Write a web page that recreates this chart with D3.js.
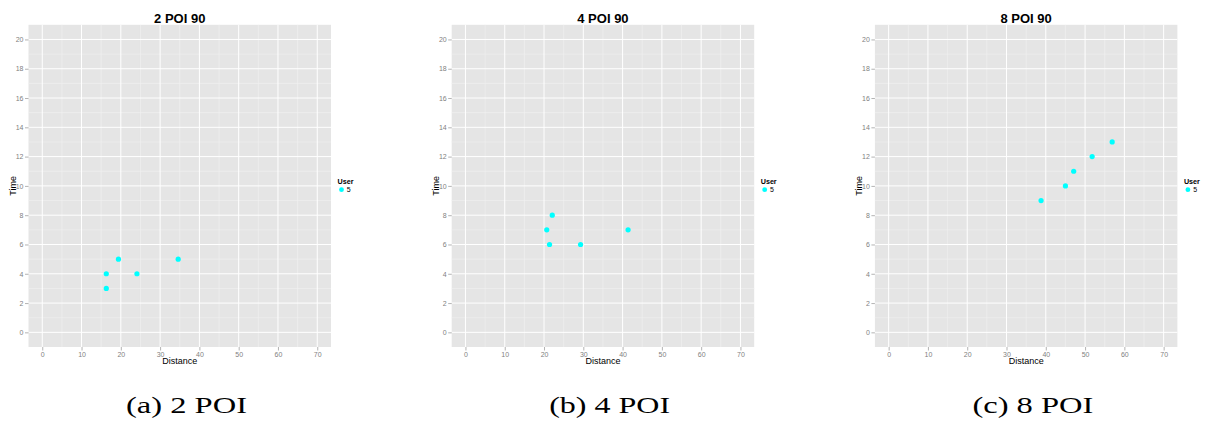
<!DOCTYPE html>
<html>
<head>
<meta charset="utf-8">
<script src="https://cdn.jsdelivr.net/npm/d3@7"></script>
<style>
body { margin: 0; background: #fff; }
svg { display: block; }
</style>
</head>
<body>
<div id="chart"></div>
<script>
var titles = ["2 POI 90", "4 POI 90", "8 POI 90"]
var captions = ["(a) 2 POI", "(b) 4 POI", "(c) 8 POI"]

// Distance / Time per panel
var dist2 = [16.3, 16.3, 19.4, 24.1, 34.6]
var time2 = [4, 3, 5, 4, 5]
var dist4 = [22.1, 20.7, 21.4, 29.3, 41.4]
var time4 = [8, 7, 6, 6, 7]
var dist8 = [38.8, 45.0, 47.1, 51.8, 56.9]
var time8 = [9, 10, 11, 12, 13]

var xTicks = [0, 10, 20, 30, 40, 50, 60, 70]
var yTicks = [0, 2, 4, 6, 8, 10, 12, 14, 16, 18, 20]
var xMinor = [5, 15, 25, 35, 45, 55, 65]
var yMinor = [1, 3, 5, 7, 9, 11, 13, 15, 17, 19]
var legendTitle = "User"
var legendLabel = "5"

var panels = [
    {title: titles[0], caption: captions[0], x: dist2, y: time2},
    {title: titles[1], caption: captions[1], x: dist4, y: time4},
    {title: titles[2], caption: captions[2], x: dist8, y: time8}
]

var width = 1205
var height = 423
var svg = d3.select("#chart").append("svg").attr("width", width).attr("height", height)

var step = 423.2
var plotW = 302.5
var plotTop = 24.8
var plotBottom = 347
var font = "'Liberation Sans', Arial, Helvetica, sans-serif"

panels.forEach(function(p, i) {
    var left = 28.5 + step * i
    var x = d3.scaleLinear().domain([-3.5, 73.5]).range([left, left + plotW])
    var y = d3.scaleLinear().domain([-1, 21]).range([plotBottom, plotTop])
    var g = svg.append("g")

    g.append("rect").attr("x", left).attr("y", plotTop)
        .attr("width", plotW).attr("height", plotBottom - plotTop).attr("fill", "#e5e5e5")

    // minor grid
    g.selectAll(".xminor").data(xMinor).enter().append("line")
        .attr("x1", function(d) { return x(d) }).attr("x2", function(d) { return x(d) })
        .attr("y1", plotTop).attr("y2", plotBottom).attr("stroke", "#f2f2f2").attr("stroke-width", 0.6)
    g.selectAll(".yminor").data(yMinor).enter().append("line")
        .attr("y1", function(d) { return y(d) }).attr("y2", function(d) { return y(d) })
        .attr("x1", left).attr("x2", left + plotW).attr("stroke", "#f2f2f2").attr("stroke-width", 0.6)
    // major grid
    g.selectAll(".xmajor").data(xTicks).enter().append("line")
        .attr("x1", function(d) { return x(d) }).attr("x2", function(d) { return x(d) })
        .attr("y1", plotTop).attr("y2", plotBottom).attr("stroke", "#fff").attr("stroke-width", 1)
    g.selectAll(".ymajor").data(yTicks).enter().append("line")
        .attr("y1", function(d) { return y(d) }).attr("y2", function(d) { return y(d) })
        .attr("x1", left).attr("x2", left + plotW).attr("stroke", "#fff").attr("stroke-width", 1)

    // axes
    var ax = g.append("g").attr("transform", "translate(0," + plotBottom + ")")
        .call(d3.axisBottom(x).tickValues(xTicks).tickSize(3.5).tickPadding(1.5))
    var ay = g.append("g").attr("transform", "translate(" + left + ",0)")
        .call(d3.axisLeft(y).tickValues(yTicks).tickSize(3.5).tickPadding(1.5))
    ;[ax, ay].forEach(function(a) {
        a.select(".domain").remove()
        a.selectAll("line").attr("stroke", "#7f7f7f").attr("stroke-width", 0.6)
        a.selectAll("text").attr("fill", "#7f7f7f").style("font-family", font).style("font-size", "7px")
    })

    // points
    g.selectAll(".pt").data(p.x).enter().append("circle")
        .attr("cx", function(d) { return x(d) })
        .attr("cy", function(d, j) { return y(p.y[j]) })
        .attr("r", 2.6).attr("fill", "#00ffff")

    // title and axis labels
    g.append("text").attr("x", left + plotW / 2).attr("y", 22.5).attr("text-anchor", "middle")
        .style("font-family", font).style("font-size", "13px").style("font-weight", "bold").text(p.title)
    g.append("text").attr("x", left + plotW / 2).attr("y", 364).attr("text-anchor", "middle")
        .style("font-family", font).style("font-size", "9px").text("Distance")
    g.append("text").attr("transform", "translate(" + (left - 12.5) + "," + ((plotTop + plotBottom) / 2) + ") rotate(-90)")
        .attr("text-anchor", "middle").style("font-family", font).style("font-size", "9px").text("Time")

    // legend
    var lx = left + plotW + 6.5
    g.append("text").attr("x", lx).attr("y", 184).style("font-family", font)
        .style("font-size", "7.2px").style("font-weight", "bold").text(legendTitle)
    g.append("circle").attr("cx", lx + 4).attr("cy", 189.7).attr("r", 2.4).attr("fill", "#00ffff")
    g.append("text").attr("x", lx + 9.3).attr("y", 192.3).style("font-family", font)
        .style("font-size", "7px").text(legendLabel)

    // caption
    svg.append("text").attr("x", 186.5 + step * i).attr("y", 413.3).attr("text-anchor", "middle")
        .attr("textLength", 121).attr("lengthAdjust", "spacingAndGlyphs")
        .style("font-family", "'Liberation Serif', 'DejaVu Serif', serif").style("font-size", "23px")
        .text(p.caption)
})
</script>
</body>
</html>
